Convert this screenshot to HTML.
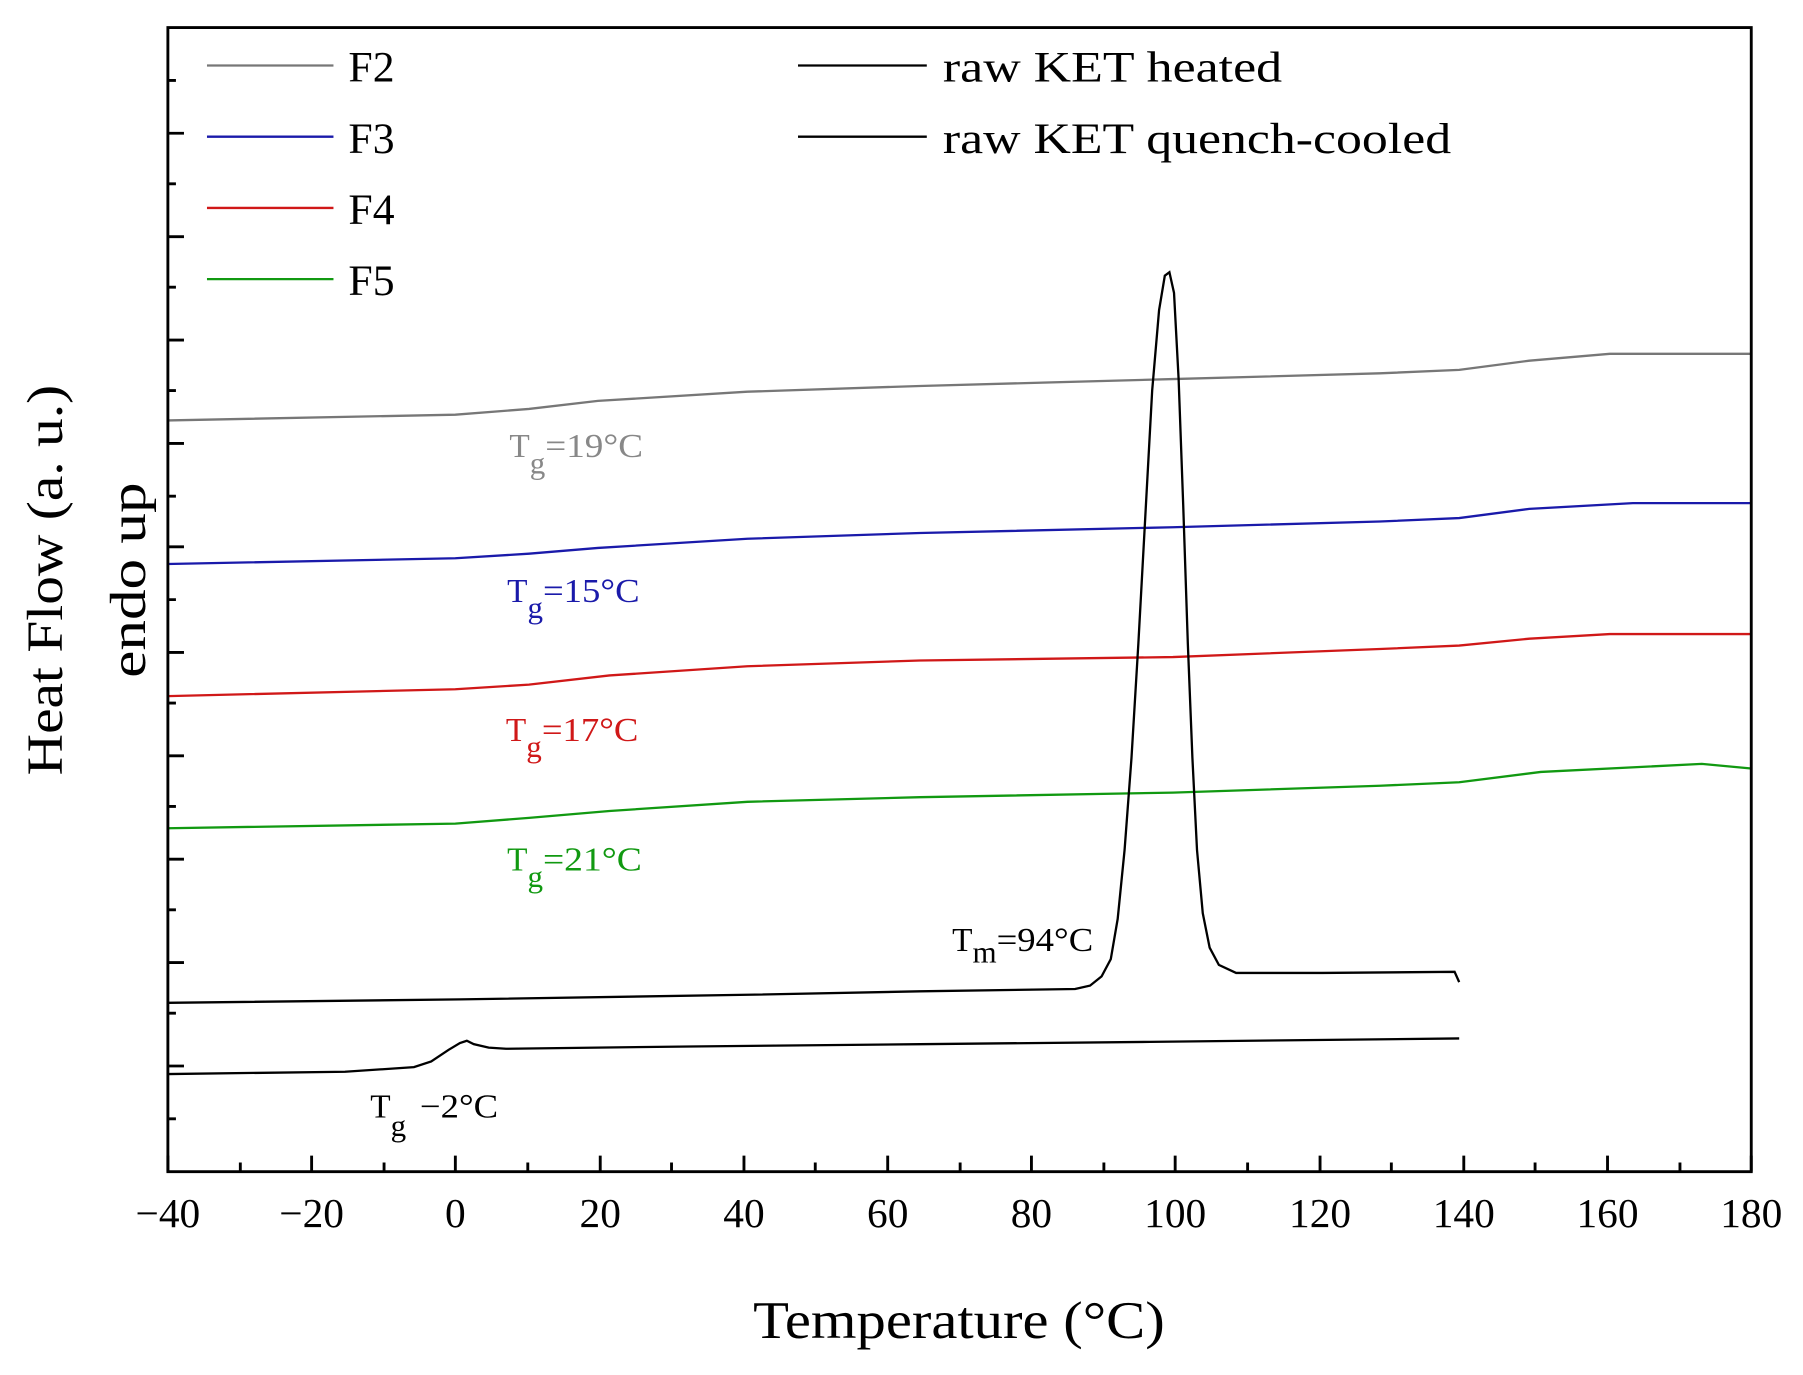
<!DOCTYPE html>
<html><head><meta charset="utf-8"><style>
html,body{margin:0;padding:0;background:#fff;}
svg{display:block;}
text{font-family:"Liberation Serif",serif;}
</style></head><body>
<svg width="1803" height="1375" viewBox="0 0 1568 1197" preserveAspectRatio="none" xmlns="http://www.w3.org/2000/svg">
<rect width="1568" height="1197" fill="#fff"/>
<g fill="none" stroke-width="2">
<polyline stroke="#777" points="146,366 396,361 460,356 520,349 650,341 800,336 1020,330 1200,325 1269,322 1330,314 1400,308 1523,308"/>
<polyline stroke="#1a1aaa" points="146,491 396,486 460,482 520,477 650,469 800,464 1020,459 1200,454 1269,451 1330,443 1420,438 1523,438"/>
<polyline stroke="#d01818" points="146,606 396,600 460,596 530,588 650,580 800,575 1020,572 1200,565 1269,562 1330,556 1400,552 1523,552"/>
<polyline stroke="#119911" points="146,721 396,717 460,712 530,706 650,698 800,694 1020,690 1200,684 1269,681 1340,672 1480,665 1523,669"/>
<polyline stroke="#000" points="146,873 400,870 650,866 800,863 935,861 948,858 958,850 966,835 972,800 978,740 984,660 990,560 996,450 1002,340 1008,270 1013,240 1017,237 1021,255 1025,330 1029,440 1033,560 1037,660 1041,740 1046,795 1052,825 1060,840 1075,847 1150,847 1265,846 1269,855"/>
<polyline stroke="#000" points="146,935 300,933 360,929 375,924 390,914 400,908 406,906 412,909 425,912 440,913 600,911 800,909 1000,907 1269,904"/>
</g>
<g stroke="#000" stroke-width="2.5" fill="none">
<rect x="146" y="24" width="1377" height="996"/>
</g>
<g stroke="#000" stroke-width="2.5">
<path d="M146 1020v-14M271 1020v-14M396 1020v-14M522 1020v-14M647 1020v-14M772 1020v-14M897 1020v-14M1022 1020v-14M1148 1020v-14M1273 1020v-14M1398 1020v-14M1523 1020v-14"/>
<path d="M209 1020v-8M334 1020v-8M459 1020v-8M584 1020v-8M709 1020v-8M835 1020v-8M960 1020v-8M1085 1020v-8M1210 1020v-8M1335 1020v-8M1461 1020v-8"/>
<path d="M146 116h14M146 206h14M146 296h14M146 386h14M146 476h14M146 568h14M146 658h14M146 748h14M146 838h14M146 928h14"/>
<path d="M146 70h7M146 160h7M146 250h7M146 340h7M146 432h7M146 522h7M146 612h7M146 702h7M146 792h7M146 882h7M146 974h7"/>
</g>
<g font-size="36" text-anchor="middle" fill="#000">
<text x="146" y="1068">−40</text><text x="271" y="1068">−20</text><text x="396" y="1068">0</text><text x="522" y="1068">20</text><text x="647" y="1068">40</text><text x="772" y="1068">60</text><text x="897" y="1068">80</text><text x="1022" y="1068">100</text><text x="1148" y="1068">120</text><text x="1273" y="1068">140</text><text x="1398" y="1068">160</text><text x="1523" y="1068">180</text>
</g>
<text x="655" y="1165" font-size="46" textLength="358" lengthAdjust="spacingAndGlyphs">Temperature (°C)</text>
<text transform="translate(54,675) rotate(-90)" font-size="44" textLength="340" lengthAdjust="spacingAndGlyphs">Heat Flow (a. u.)</text>
<text transform="translate(126,590) rotate(-90)" font-size="44" textLength="170" lengthAdjust="spacingAndGlyphs">endo up</text>
<g stroke-width="2">
<line x1="180" y1="57" x2="290" y2="57" stroke="#777"/>
<line x1="180" y1="119" x2="290" y2="119" stroke="#1a1aaa"/>
<line x1="180" y1="181" x2="290" y2="181" stroke="#d01818"/>
<line x1="180" y1="243" x2="290" y2="243" stroke="#119911"/>
<line x1="694" y1="57" x2="806" y2="57" stroke="#000"/>
<line x1="694" y1="119" x2="806" y2="119" stroke="#000"/>
</g>
<g font-size="38" fill="#000">
<text x="303" y="71">F2</text><text x="303" y="133">F3</text><text x="303" y="195">F4</text><text x="303" y="257">F5</text>
<text x="820" y="71" textLength="295" lengthAdjust="spacingAndGlyphs">raw KET heated</text><text x="820" y="133" textLength="442" lengthAdjust="spacingAndGlyphs">raw KET quench-cooled</text>
</g>
<g font-size="29">
<text x="443" y="398" fill="#888">T<tspan dy="14" font-size="27">g</tspan><tspan dy="-14" textLength="85" lengthAdjust="spacingAndGlyphs">=19°C</tspan></text>
<text x="441" y="524" fill="#1a1aaa">T<tspan dy="14" font-size="27">g</tspan><tspan dy="-14" textLength="84" lengthAdjust="spacingAndGlyphs">=15°C</tspan></text>
<text x="440" y="645" fill="#d01818">T<tspan dy="14" font-size="27">g</tspan><tspan dy="-14" textLength="84" lengthAdjust="spacingAndGlyphs">=17°C</tspan></text>
<text x="441" y="758" fill="#119911">T<tspan dy="14" font-size="27">g</tspan><tspan dy="-14" textLength="86" lengthAdjust="spacingAndGlyphs">=21°C</tspan></text>
<text x="828" y="828" fill="#000">T<tspan dy="10" font-size="27">m</tspan><tspan dy="-10" textLength="84" lengthAdjust="spacingAndGlyphs">=94°C</tspan></text>
<text x="322" y="973" fill="#000">T<tspan dy="16" font-size="27">g</tspan><tspan dy="-16" dx="12" textLength="68" lengthAdjust="spacingAndGlyphs">−2°C</tspan></text>
</g>
</svg>
</body></html>
